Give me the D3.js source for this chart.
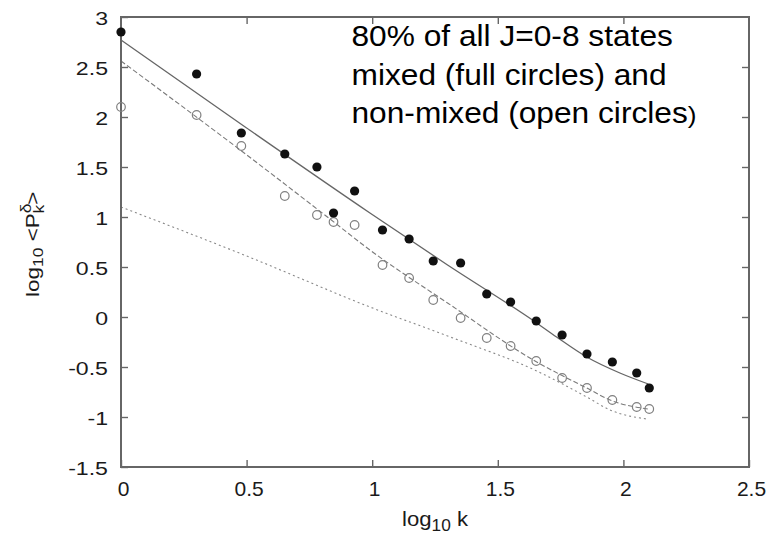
<!DOCTYPE html>
<html>
<head>
<meta charset="utf-8">
<script src="https://cdn.jsdelivr.net/npm/d3@7"></script>
<style>
  body { margin: 0; background: #fff; }
  svg { display: block; font-family: "Liberation Sans", Arial, sans-serif; }
</style>
</head>
<body>
<script>
// log10 k positions of the measured states
var kLog = [0, 0.301, 0.479, 0.652, 0.780, 0.846, 0.930, 1.041, 1.147, 1.243, 1.352, 1.456, 1.551, 1.653, 1.756, 1.855, 1.956, 2.053, 2.103];
// log10 <P_k^delta> : mixed (full circles) and non-mixed (open circles)
var mixed    = [2.85, 2.43, 1.84, 1.63, 1.50, 1.04, 1.26, 0.87, 0.78, 0.56, 0.54, 0.23, 0.15, -0.04, -0.18, -0.37, -0.45, -0.56, -0.71];
var nonMixed = [2.10, 2.02, 1.71, 1.21, 1.02, 0.95, 0.92, 0.52, 0.39, 0.17, -0.01, -0.21, -0.29, -0.44, -0.61, -0.71, -0.83, -0.90, -0.92];

// fitted curves
var fitMixedX = [0, 0.5, 0.991, 1.3, 1.655, 1.734, 1.854, 1.986, 2.099];
var fitMixedY = [2.77, 1.89, 1.04, 0.52, -0.06, -0.20, -0.40, -0.56, -0.67];
var fitOpenX  = [0, 0.48, 0.832, 0.991, 1.3, 1.655, 1.854, 1.947, 2.099];
var fitOpenY  = [2.56, 1.66, 0.98, 0.67, 0.14, -0.45, -0.71, -0.83, -0.92];
var fitRefX   = [0, 0.5, 0.991, 1.3, 1.655, 1.854, 1.947, 2.093];
var fitRefY   = [1.10, 0.61, 0.10, -0.19, -0.54, -0.80, -0.93, -1.02];

var xTicks = [0, 0.5, 1, 1.5, 2, 2.5];
var yTicks = [-1.5, -1, -0.5, 0, 0.5, 1, 1.5, 2, 2.5, 3];

var noteLines = ["80% of all J=0-8 states", "mixed (full circles) and", "non-mixed (open circles"];

var W = 771, H = 535;
var margin = {top: 17, right: 22, bottom: 68, left: 121};
var width = W - margin.left - margin.right,
    height = H - margin.top - margin.bottom;

var svg = d3.select("body").append("svg")
    .attr("width", W)
    .attr("height", H);
var g = svg.append("g")
    .attr("transform", "translate(" + margin.left + "," + margin.top + ")");

var x = d3.scaleLinear().domain([0, 2.5]).range([0, width]);
var y = d3.scaleLinear().domain([-1.5, 3]).range([height, 0]);

var fmt = function(d) { return String(d); };
var tickCol = "#666";

// bottom axis, ticks pointing inward
var ax = g.append("g")
    .attr("transform", "translate(0," + height + ")")
    .call(d3.axisBottom(x).tickValues(xTicks).tickFormat(fmt).tickSizeInner(-7).tickSizeOuter(0).tickPadding(14));
ax.selectAll("text")
    .attr("fill", "#1a1a1a")
    .style("font-size", "21px")
    .attr("transform", "translate(2,0)");

// left axis
var ay = g.append("g")
    .call(d3.axisLeft(y).tickValues(yTicks).tickFormat(fmt).tickSizeInner(-7).tickSizeOuter(0));
ay.selectAll("text")
    .attr("fill", "#1a1a1a")
    .attr("x", 0)
    .attr("dy", "0.36em")
    .style("font-size", "18.5px")
    .attr("transform", "translate(-13,1) scale(1.25,1)");

// mirror ticks on top and right
g.append("g")
    .call(d3.axisTop(x).tickValues(xTicks.slice(1, -1)).tickFormat("").tickSizeInner(-7).tickSizeOuter(0));
g.append("g")
    .attr("transform", "translate(" + width + ",0)")
    .call(d3.axisRight(y).tickValues(yTicks.slice(1, -1)).tickFormat("").tickSizeInner(-7).tickSizeOuter(0));

g.selectAll(".domain").remove();
g.selectAll(".tick line").attr("stroke", tickCol).attr("stroke-width", 1.4);

// fitted curves
var line = d3.line()
    .x(function(d) { return x(d[0]); })
    .y(function(d) { return y(d[1]); })
    .curve(d3.curveMonotoneX);

function pairs(xs, ys) { return xs.map(function(v, i) { return [v, ys[i]]; }); }

g.append("path")
    .attr("d", line(pairs(fitRefX, fitRefY)))
    .attr("fill", "none")
    .attr("stroke", "#8a8a8a")
    .attr("stroke-width", 1.1)
    .attr("stroke-dasharray", "2,3");

g.append("path")
    .attr("d", line(pairs(fitOpenX, fitOpenY)))
    .attr("fill", "none")
    .attr("stroke", "#7a7a7a")
    .attr("stroke-width", 1.1)
    .attr("stroke-dasharray", "5,2.5");

g.append("path")
    .attr("d", line(pairs(fitMixedX, fitMixedY)))
    .attr("fill", "none")
    .attr("stroke", "#666")
    .attr("stroke-width", 1.3);

// frame
g.append("rect")
    .attr("width", width)
    .attr("height", height)
    .attr("fill", "none")
    .attr("stroke", tickCol)
    .attr("stroke-width", 2);

// points
g.selectAll(".open")
    .data(pairs(kLog, nonMixed))
    .enter().append("circle")
    .attr("class", "open")
    .attr("cx", function(d) { return x(d[0]); })
    .attr("cy", function(d) { return y(d[1]); })
    .attr("r", 4.3)
    .attr("fill", "none")
    .attr("stroke", "#808080")
    .attr("stroke-width", 1.2);

g.selectAll(".full")
    .data(pairs(kLog, mixed))
    .enter().append("circle")
    .attr("class", "full")
    .attr("cx", function(d) { return x(d[0]); })
    .attr("cy", function(d) { return y(d[1]); })
    .attr("r", 4.6)
    .attr("fill", "#111");

// annotation
var note = svg.append("text")
    .attr("transform", "translate(351.5,0) scale(1.093,1)")
    .attr("fill", "#000")
    .style("font-size", "29px");
noteLines.forEach(function(t, i) {
    note.append("tspan")
        .attr("x", 0)
        .attr("y", 46.5 + i * 38.4)
        .text(t);
    if (i == noteLines.length - 1)
        note.append("tspan").style("font-size", "24px").text(")");
});

// x label: log10 k
var xl = svg.append("text")
    .attr("transform", "translate(" + (margin.left + width / 2) + ",525.5) scale(1.08,1)")
    .attr("text-anchor", "middle")
    .attr("fill", "#1a1a1a")
    .style("font-size", "20.5px");
xl.append("tspan").text("log");
xl.append("tspan").attr("dy", 5).style("font-size", "16px").text("10");
xl.append("tspan").attr("dy", -5).text(" k");

// y label: log10 <P^delta_k>
var yl = svg.append("text")
    .attr("transform", "translate(38.5,297) rotate(-90) scale(1.25,1)")
    .attr("fill", "#1a1a1a")
    .style("font-size", "18px");
yl.append("tspan").text("log");
yl.append("tspan").attr("dy", 4).style("font-size", "14px").text("10");
yl.append("tspan").attr("dy", -4).text(" <P");
yl.append("tspan").attr("dy", -8).style("font-size", "14px").text("\u03b4");
yl.append("tspan").attr("dx", -8).attr("dy", 13).style("font-size", "14px").text("k");
yl.append("tspan").attr("dy", -5).text(">");
</script>
</body>
</html>
